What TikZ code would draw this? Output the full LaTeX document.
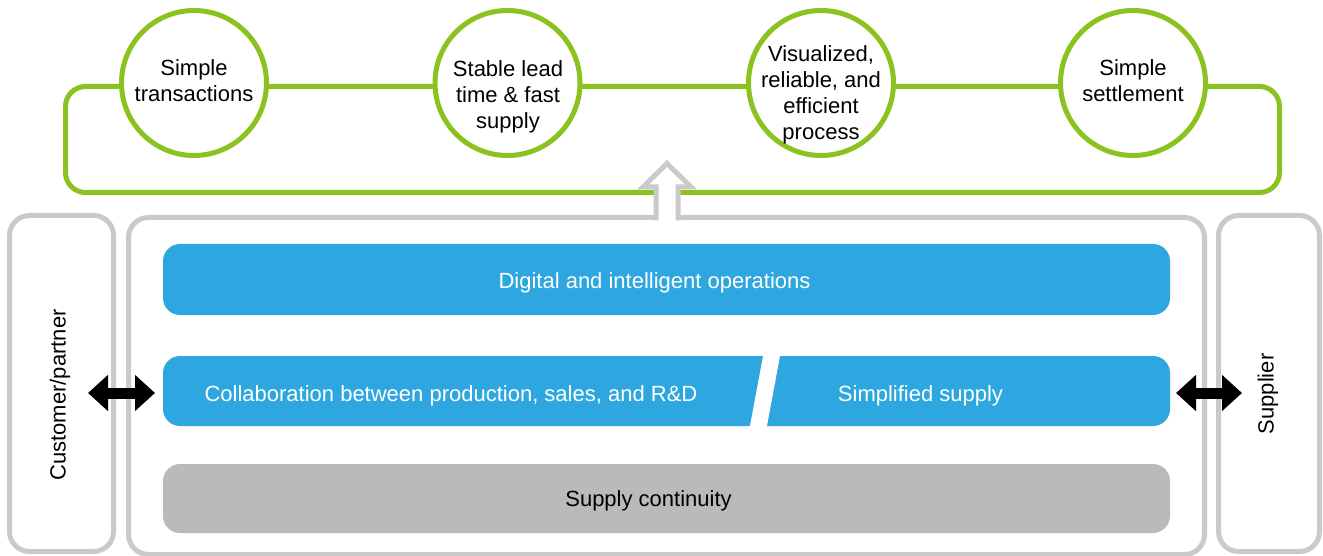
\documentclass[tikz,border=0pt]{standalone}
\usepackage{fontspec}
\setmainfont{Liberation Sans}
\usetikzlibrary{arrows.meta}
\definecolor{lgreen}{HTML}{8CC21F}
\definecolor{lgray}{HTML}{C9CAC9}
\definecolor{lblue}{HTML}{2EA7E0}
\definecolor{bgray}{HTML}{B9BAB9}
\begin{document}
\begin{tikzpicture}[x=1pt,y=-1pt,
  txt/.style={font=\fontsize{22}{26}\selectfont, align=center, inner sep=0pt},
  panel/.style={draw=lgray, line width=5pt, rounded corners=20pt, inner sep=0pt},
  greenframe/.style={draw=lgreen, line width=5pt, rounded corners=20pt, inner sep=0pt},
  goal/.style={circle, draw=lgreen, line width=5pt, fill=white, minimum size=145pt, inner sep=0pt},
  bar/.style={fill=lblue, rounded corners=17pt, inner sep=0pt, minimum width=1007pt},
  greybar/.style={fill=bgray, rounded corners=17pt, inner sep=0pt, minimum width=1007pt},
  dbl/.style={line width=11pt, black, {Triangle[length=20pt,width=35pt]}-{Triangle[length=20pt,width=35pt]}}
]
\useasboundingbox (0,0) rectangle (1323,556);
\fill[white] (0,0) rectangle (1323,556);

% green frame and goal circles
\node[greenframe, minimum width=1214pt, minimum height=106pt] (frame) at (672.5,139.5) {};
\node[goal] (g1) at (194,83) {};
\node[goal] (g2) at (507.5,83) {};
\node[goal] (g3) at (821,83) {};
\node[goal] (g4) at (1133,83) {};
\node[txt] (t1) at (194,81) {Simple\\transactions};
\node[txt] (t2) at (508,97) {Stable lead\\time \& fast\\supply};
\node[txt] (t3) at (821,95) {Visualized,\\reliable, and\\efficient\\process};
\node[txt] (t4) at (1133,81) {Simple\\settlement};

% grey panels
\node[panel, minimum width=104pt, minimum height=336pt] (cust) at (61.5,383.5) {};
\node[panel, minimum width=1076pt, minimum height=337pt] (main) at (666.5,386) {};
\node[panel, minimum width=101pt, minimum height=336pt] (supp) at (1269,383.5) {};
\node[txt, rotate=90] (custtxt) at (60,395) {Customer/partner};
\node[txt, rotate=90] (supptxt) at (1268,394) {Supplier};

% up arrow
\fill[white] (656,220.5) -- (656,187) -- (643,187) -- (667,163.5) -- (691,187) -- (678,187) -- (678,220.5) -- cycle;
\draw[lgray, line width=5pt, line join=miter] (656,220.5) -- (656,187) -- (643,187) -- (667,163.5) -- (691,187) -- (678,187) -- (678,220.5);

% bars
\node[bar, minimum height=71pt] (digital) at (666.5,279.5) {};
\node[bar, minimum height=70pt] (collab) at (666.5,391) {};
\fill[white] (763.6,353) -- (780.6,353) -- (766.4,429) -- (749.4,429) -- cycle;
\node[greybar, minimum height=69pt] (cont) at (666.5,498.5) {};
\node[txt, text=white] (digtxt) at (654.5,283) {Digital and intelligent operations};
\node[txt, text=white] (coltxt) at (451,396) {Collaboration between production, sales, and R\&D};
\node[txt, text=white] (simtxt) at (920.5,396) {Simplified supply};
\node[txt] (conttxt) at (648.5,501) {Supply continuity};

% double arrows
\coordinate (la) at (88,393);
\coordinate (lb) at (155,393);
\coordinate (ra) at (1176,393);
\coordinate (rb) at (1242,393);
\draw[dbl] (la) -- (lb);
\draw[dbl] (ra) -- (rb);
\end{tikzpicture}
\end{document}
